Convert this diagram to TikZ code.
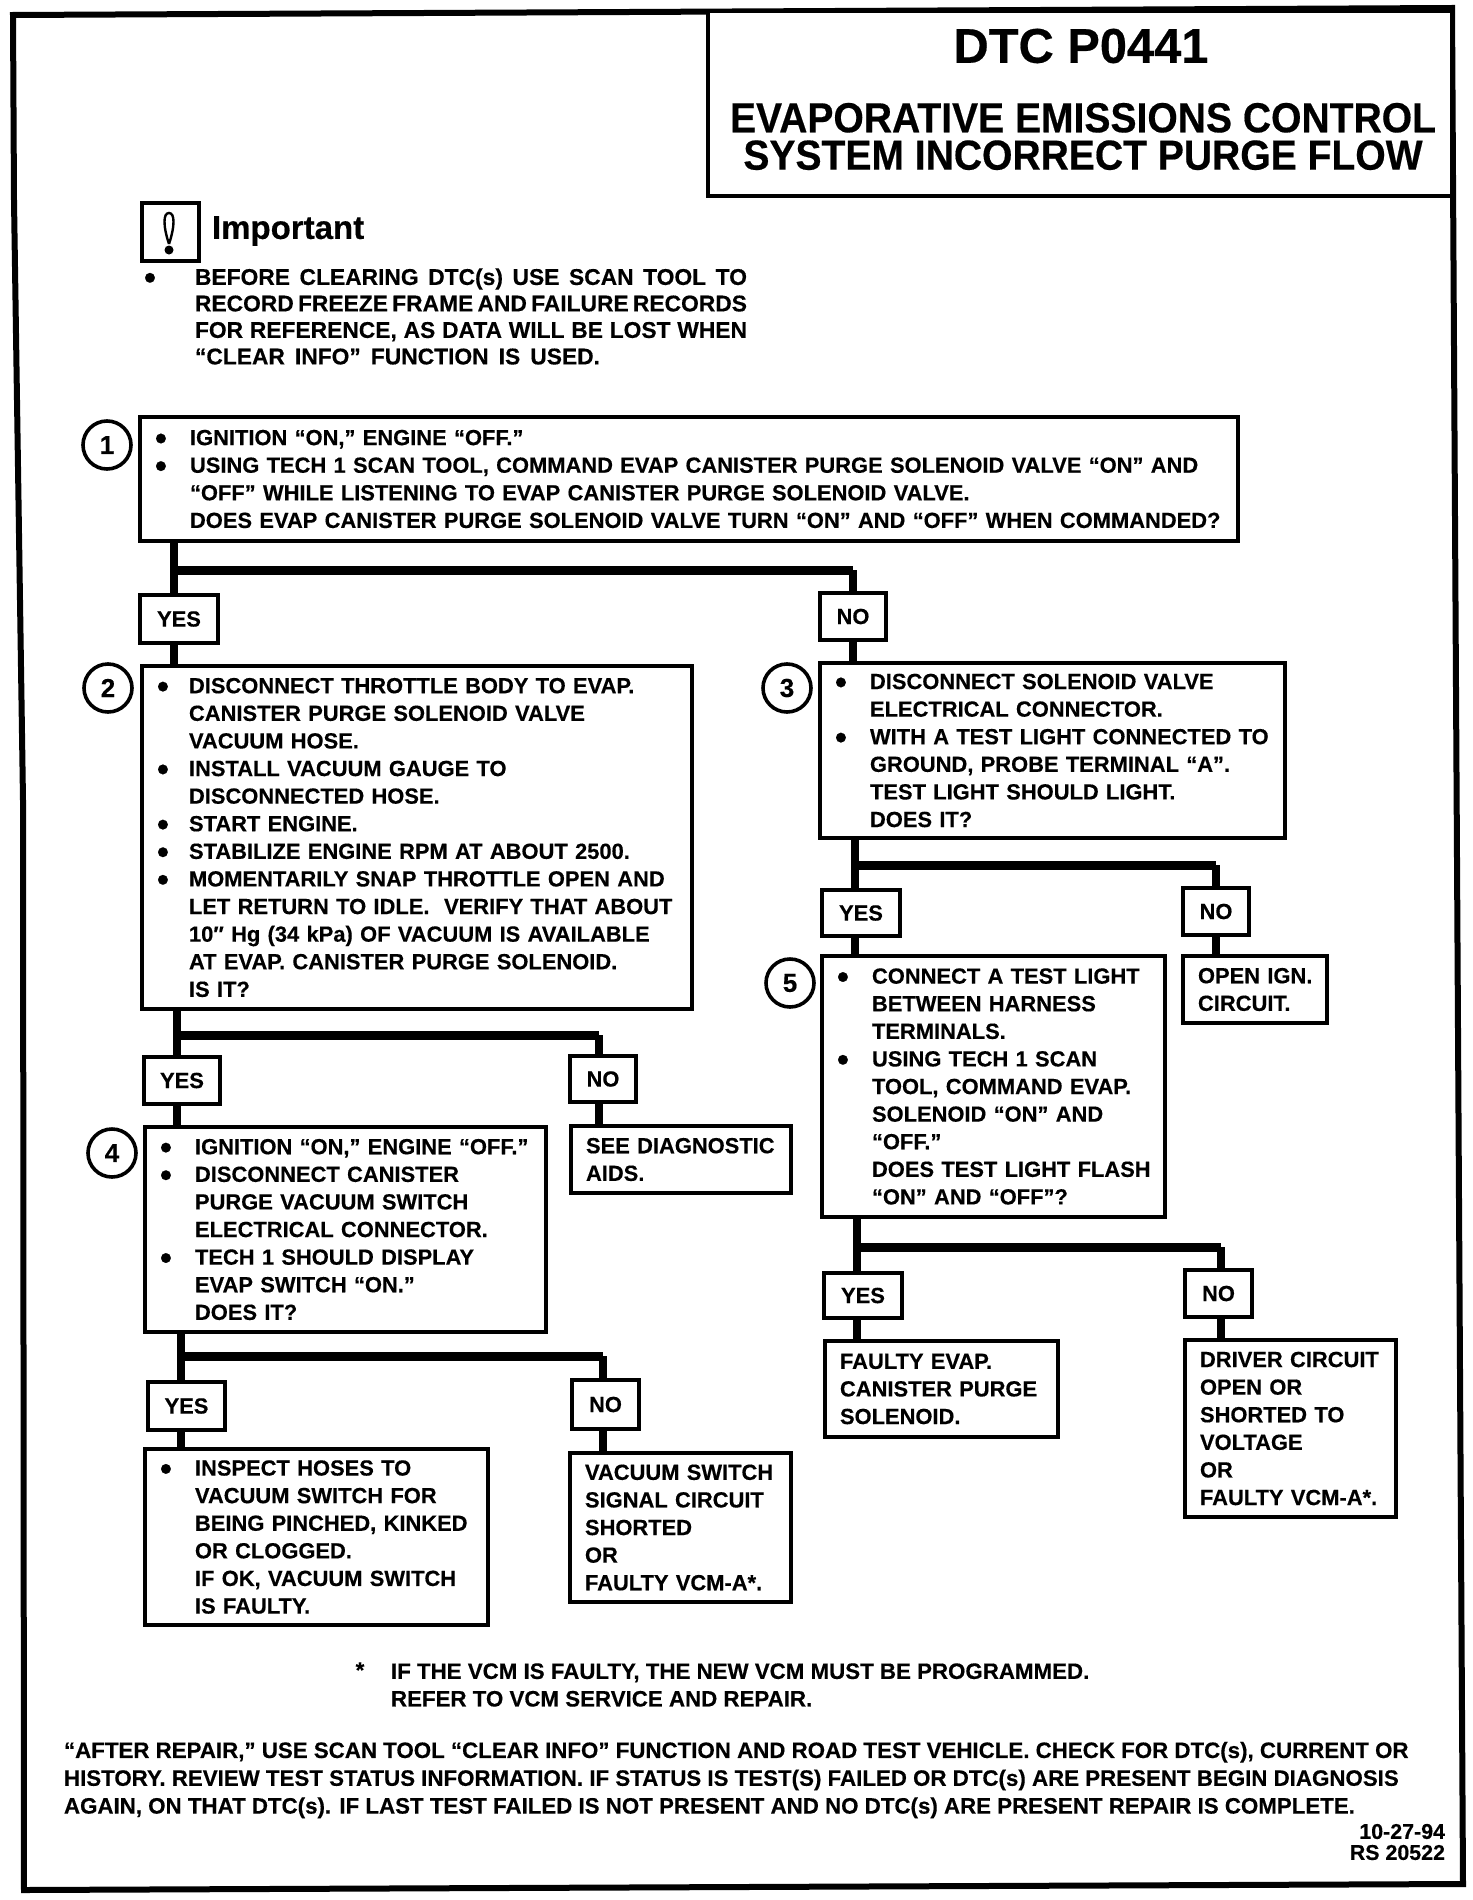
\documentclass[tikz,border=0pt]{standalone}
\usepackage{fontspec}
\setmainfont{Liberation Sans}[BoldFeatures={FakeBold=0.4}]
\newfontfamily\titlef{Liberation Sans Bold}[FakeStretch=0.93,FakeBold=0.4]
\newcommand\bodyf{\fontsize{10.95}{13.8}\selectfont\bfseries}
\newcommand\bul{{\fontsize{17}{0}\selectfont\raisebox{-2.3pt}[0pt][0pt]{•}}}
\newcommand\indentw{25pt}
\newcommand\bline{\makebox[\indentw][l]{\hspace{7.5pt}\bul}}
\newcommand\nline{\hspace*{\indentw}}
\newcommand\pline{\hspace*{7.5pt}}
\tikzset{
  box/.style={draw=black,line width=2pt,fill=white,inner sep=0pt,outer sep=0pt,anchor=north west,font=\bodyf,align=left},
  lab/.style={box,align=center},
  plaintext/.style={inner sep=0pt,outer sep=0pt,font=\fontsize{11.15}{13.8}\selectfont\bfseries,align=left},
  conn/.style={draw=black,line width=4pt},
  hconn/.style={draw=black,line width=4.5pt},
  frameline/.style={draw=black,line width=3pt,line join=miter},
  num/.style={circle,draw=black,line width=1.8pt,minimum size=24pt,inner sep=0pt,fill=white,font=\fontsize{13}{13}\selectfont\bfseries}
}
\newcommand\bx[7][box]{%
  \pgfmathsetmacro\bw{(#5-#3-2)*0.5}%
  \pgfmathsetmacro\bh{(#6-#4)*0.5}%
  \pgfmathsetmacro\bxl{#3+2}%
  \node[#1,minimum width=\bw pt,minimum height=\bh pt,text width=\bw pt] (#2) at (\bxl,#4) {#7};}
\begin{document}
\begin{tikzpicture}[x=0.5pt,y=-0.5pt]
\useasboundingbox (0,0) rectangle (1472,1900);
\fill[white] (0,0) rectangle (1472,1900);
\draw[frameline] (13,15) -- (14,200) -- (23,800) -- (24,1890) -- (1463,1884) -- (1452,8) -- cycle;
% title
\bx{title}{706}{11}{1452}{196}{}
\node[plaintext,font=\fontsize{24.4}{26}\selectfont\bfseries] (t1) at (1081,46) {DTC P0441};
\node[plaintext,font=\titlef\fontsize{21}{18.7}\selectfont,align=center] (t2) at (1083,136.5) {EVAPORATIVE EMISSIONS CONTROL\\SYSTEM INCORRECT PURGE FLOW};
% important
\bx{icon}{140}{203}{199}{261}{}
\draw[line width=1.2pt] (169,244) .. controls (163,226) and (163,213) .. (169,213) .. controls (175,213) and (175,226) .. (169,244);
\fill (169,250) circle (4.5);
\node[plaintext,anchor=west,font=\fontsize{16.5}{18}\selectfont\bfseries] (imp) at (212,231) {Important};
\node[plaintext,anchor=center,font=\fontsize{17}{17}\selectfont\bfseries] (impb) at (150,281) {•};
\node[plaintext,anchor=west,font=\fontsize{11.4}{13.25}\selectfont\bfseries] (impt) at (195,316.5) {%
\makebox[276pt][s]{BEFORE CLEARING DTC(s) USE SCAN TOOL TO}\\
\makebox[276pt][s]{RECORD FREEZE FRAME AND FAILURE RECORDS}\\
\makebox[276pt][s]{FOR REFERENCE, AS DATA WILL BE LOST WHEN}\\
\makebox[202.5pt][s]{“CLEAR INFO” FUNCTION IS USED.}};
% step boxes
\bx{b1}{138}{417}{1238}{541}{\bline IGNITION “ON,” ENGINE “OFF.”\\
\bline USING TECH 1 SCAN TOOL, COMMAND EVAP CANISTER PURGE SOLENOID VALVE “ON” AND\\
\nline “OFF” WHILE LISTENING TO EVAP CANISTER PURGE SOLENOID VALVE.\\
\nline DOES EVAP CANISTER PURGE SOLENOID VALVE TURN “ON” AND “OFF” WHEN COMMANDED?}
\bx[lab]{y1}{138}{595}{218}{643}{YES}
\bx[lab]{n1}{818}{593}{886}{640}{NO}
\bx{b2}{140}{666}{692}{1009}{\def\indentw{23.5pt}\bline DISCONNECT THROTTLE BODY TO EVAP.\\
\nline CANISTER PURGE SOLENOID VALVE\\
\nline VACUUM HOSE.\\
\bline INSTALL VACUUM GAUGE TO\\
\nline DISCONNECTED HOSE.\\
\bline START ENGINE.\\
\bline STABILIZE ENGINE RPM AT ABOUT 2500.\\
\bline MOMENTARILY SNAP THROTTLE OPEN AND\\
\nline LET RETURN TO IDLE.\ \ VERIFY THAT ABOUT\\
\nline 10″ Hg (34 kPa) OF VACUUM IS AVAILABLE\\
\nline AT EVAP. CANISTER PURGE SOLENOID.\\
\nline IS IT?}
\bx{b3}{818}{663}{1285}{838}{\bline DISCONNECT SOLENOID VALVE\\
\nline ELECTRICAL CONNECTOR.\\
\bline WITH A TEST LIGHT CONNECTED TO\\
\nline GROUND, PROBE TERMINAL “A”.\\
\nline TEST LIGHT SHOULD LIGHT.\\
\nline DOES IT?}
\bx[lab]{y2}{142}{1057}{220}{1104}{YES}
\bx[lab]{n2}{568}{1056}{636}{1102}{NO}
\bx{sd}{569}{1126}{791}{1193}{\pline SEE DIAGNOSTIC\\\pline AIDS.}
\bx{b4}{143}{1127}{546}{1332}{\bline IGNITION “ON,” ENGINE “OFF.”\\
\bline DISCONNECT CANISTER\\
\nline PURGE VACUUM SWITCH\\
\nline ELECTRICAL CONNECTOR.\\
\bline TECH 1 SHOULD DISPLAY\\
\nline EVAP SWITCH “ON.”\\
\nline DOES IT?}
\bx[lab]{y4}{146}{1382}{225}{1430}{YES}
\bx[lab]{n4}{570}{1380}{639}{1429}{NO}
\bx{insp}{143}{1449}{488}{1625}{\bline INSPECT HOSES TO\\
\nline VACUUM SWITCH FOR\\
\nline BEING PINCHED, KINKED\\
\nline OR CLOGGED.\\
\nline IF OK, VACUUM SWITCH\\
\nline IS FAULTY.}
\bx{vs}{568}{1453}{791}{1602}{\pline VACUUM SWITCH\\
\pline SIGNAL CIRCUIT\\
\pline SHORTED\\
\pline OR\\
\pline FAULTY VCM-A*.}
\bx[lab]{y3}{820}{890}{900}{936}{YES}
\bx[lab]{n3}{1181}{888}{1249}{935}{NO}
\bx{og}{1181}{956}{1327}{1023}{\pline OPEN IGN.\\\pline CIRCUIT.}
\bx{b5}{820}{956}{1165}{1217}{\bline CONNECT A TEST LIGHT\\
\nline BETWEEN HARNESS\\
\nline TERMINALS.\\
\bline USING TECH 1 SCAN\\
\nline TOOL, COMMAND EVAP.\\
\nline SOLENOID “ON” AND\\
\nline “OFF.”\\
\nline DOES TEST LIGHT FLASH\\
\nline “ON” AND “OFF”?}
\bx[lab]{y5}{822}{1273}{902}{1318}{YES}
\bx[lab]{n5}{1183}{1270}{1252}{1317}{NO}
\bx{fe}{823}{1341}{1058}{1437}{\pline FAULTY EVAP.\\
\pline CANISTER PURGE\\
\pline SOLENOID.}
\bx{dc}{1183}{1340}{1396}{1517}{\pline DRIVER CIRCUIT\\
\pline OPEN OR\\
\pline SHORTED TO\\
\pline VOLTAGE\\
\pline OR\\
\pline FAULTY VCM-A*.}
% numbers
\node[num] (c1) at (107,445) {1};
\node[num] (c2) at (108,688) {2};
\node[num] (c3) at (787,688) {3};
\node[num] (c4) at (112,1153) {4};
\node[num] (c5) at (790,983) {5};
% connectors
\coordinate (j1) at (174,570); \coordinate (k1) at (853,570);
\draw[conn] (j1 |- b1.south) -- (j1 |- y1.north);
\draw[conn] (j1 |- y1.south) -- (j1 |- b2.north);
\draw[hconn] (j1) -- (k1);
\draw[conn] (k1) -- (k1 |- n1.north);
\draw[conn] (k1 |- n1.south) -- (k1 |- b3.north);
\coordinate (j2) at (177,1035); \coordinate (k2) at (599,1035);
\draw[conn] (j2 |- b2.south) -- (j2 |- y2.north);
\draw[conn] (j2 |- y2.south) -- (j2 |- b4.north);
\draw[hconn] (j2) -- (k2);
\draw[conn] (k2) -- (k2 |- n2.north);
\draw[conn] (k2 |- n2.south) -- (k2 |- sd.north);
\coordinate (j4) at (181,1356); \coordinate (k4) at (603,1356);
\draw[conn] (j4 |- b4.south) -- (j4 |- y4.north);
\draw[conn] (j4 |- y4.south) -- (j4 |- insp.north);
\draw[hconn] (j4) -- (k4);
\draw[conn] (k4) -- (k4 |- n4.north);
\draw[conn] (k4 |- n4.south) -- (k4 |- vs.north);
\coordinate (j3) at (855,865); \coordinate (k3) at (1216,865);
\draw[conn] (j3 |- b3.south) -- (j3 |- y3.north);
\draw[conn] (j3 |- y3.south) -- (j3 |- b5.north);
\draw[hconn] (j3) -- (k3);
\draw[conn] (k3) -- (k3 |- n3.north);
\draw[conn] (k3 |- n3.south) -- (k3 |- og.north);
\coordinate (j5) at (857,1247); \coordinate (k5) at (1221,1247);
\draw[conn] (j5 |- b5.south) -- (j5 |- y5.north);
\draw[conn] (j5 |- y5.south) -- (j5 |- fe.north);
\draw[hconn] (j5) -- (k5);
\draw[conn] (k5) -- (k5 |- n5.north);
\draw[conn] (k5 |- n5.south) -- (k5 |- dc.north);
% footnotes
\node[plaintext] (star) at (360,1670) {*};
\node[plaintext,anchor=west] (fn) at (391,1685) {IF THE VCM IS FAULTY, THE NEW VCM MUST BE PROGRAMMED.\\REFER TO VCM SERVICE AND REPAIR.};
\node[plaintext,anchor=west,font=\fontsize{11.15}{13.9}\selectfont\bfseries] (rep) at (64,1780) {“AFTER REPAIR,” USE SCAN TOOL “CLEAR INFO” FUNCTION AND ROAD TEST VEHICLE. CHECK FOR DTC(s), CURRENT OR\\
HISTORY. REVIEW TEST STATUS INFORMATION. IF STATUS IS TEST(S) FAILED OR DTC(s) ARE PRESENT BEGIN DIAGNOSIS\\
AGAIN, ON THAT DTC(s). IF LAST TEST FAILED IS NOT PRESENT AND NO DTC(s) ARE PRESENT REPAIR IS COMPLETE.};
\node[plaintext,anchor=east,align=right,font=\fontsize{10.7}{10.5}\selectfont\bfseries] (rs) at (1445,1842) {10-27-94\\RS 20522};
\end{tikzpicture}
\end{document}
